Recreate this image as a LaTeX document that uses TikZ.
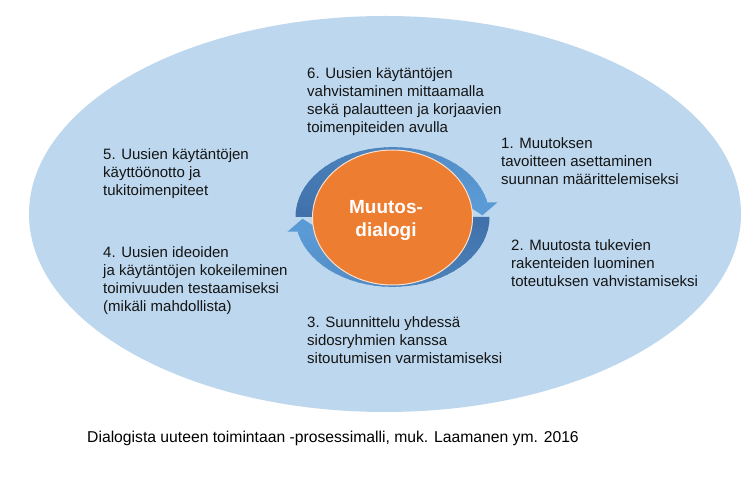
\documentclass[tikz,border=0pt]{standalone}
\usepackage{fontspec}
\setmainfont{Liberation Sans}
\definecolor{bgblue}{RGB}{189,215,238}
\definecolor{arrdark}{RGB}{65,113,170}
\definecolor{arrlight}{RGB}{91,155,213}
\definecolor{orng}{RGB}{237,125,49}
\definecolor{txt}{RGB}{20,20,20}
\tikzset{
  lbl/.style={anchor=north west, inner sep=0pt, align=left, text=txt,
    font=\fontsize{15}{18}\selectfont},
  corelbl/.style={anchor=north, inner sep=0pt, align=center, text=white,
    font=\bfseries\fontsize{19}{23}\selectfont},
  caplbl/.style={anchor=north west, inner sep=0pt, align=left, text=black,
    font=\fontsize{15.7}{18.8}\selectfont},
}
\begin{document}
\begin{tikzpicture}[x=1pt,y=1pt]
\useasboundingbox (0,0) rectangle (755,482);
\fill[white] (0,0) rectangle (755,482);
% outer ellipse
\fill[bgblue] (385,268) ellipse [x radius=356, y radius=198];
% circular arrows
\begin{scope}[shift={(392.5,265)}, yscale=0.72]
  \foreach \rot in {0,180} {
    \begin{scope}[rotate=\rot]
      \foreach \i in {0,...,33} {
        \pgfmathsetmacro\sa{180-5*\i}
        \pgfmathsetmacro\ea{max(12,173.5-5*\i)}
        \pgfmathtruncatemacro\pc{100*\i/33}
        \fill[arrlight!\pc!arrdark] (\sa:97) arc[start angle=\sa, end angle=\ea, radius=97]
          -- (\ea:80) arc[start angle=\ea, end angle=\sa, radius=80] -- cycle;
      }
      \fill[arrlight] (16:73) -- (11:107) -- (1.5:90) -- cycle;
    \end{scope}
  }
\end{scope}
% orange centre
\filldraw[fill=orng, draw=white!75!orng, line width=1pt] (392.5,264.5) ellipse [x radius=80, y radius=67.5];
\node[corelbl] (core) at (386,285.1) {\strut Muutos-\\dialogi};
% step texts
\node[lbl] (s6) at (307,416.6) {\strut 6. Uusien käytäntöjen\\vahvistaminen mittaamalla\\sekä palautteen ja korjaavien\\toimenpiteiden avulla};
\node[lbl] (s1) at (501,346.6) {\strut 1. Muutoksen\\tavoitteen asettaminen\\suunnan määrittelemiseksi};
\node[lbl] (s2) at (511,244.6) {\strut 2. Muutosta tukevien\\rakenteiden luominen\\toteutuksen vahvistamiseksi};
\node[lbl] (s3) at (307,167.6) {\strut 3. Suunnittelu yhdessä\\sidosryhmien kanssa\\sitoutumisen varmistamiseksi};
\node[lbl] (s4) at (103,237.6) {\strut 4. Uusien ideoiden\\ja käytäntöjen kokeileminen\\toimivuuden testaamiseksi\\(mikäli mahdollista)};
\node[lbl] (s5) at (103,335.6) {\strut 5. Uusien käytäntöjen\\käyttöönotto ja\\tukitoimenpiteet};
% caption
\node[caplbl] (cap) at (87,53.2) {\strut Dialogista uuteen toimintaan -prosessimalli, muk. Laamanen ym. 2016};
\end{tikzpicture}
\end{document}
